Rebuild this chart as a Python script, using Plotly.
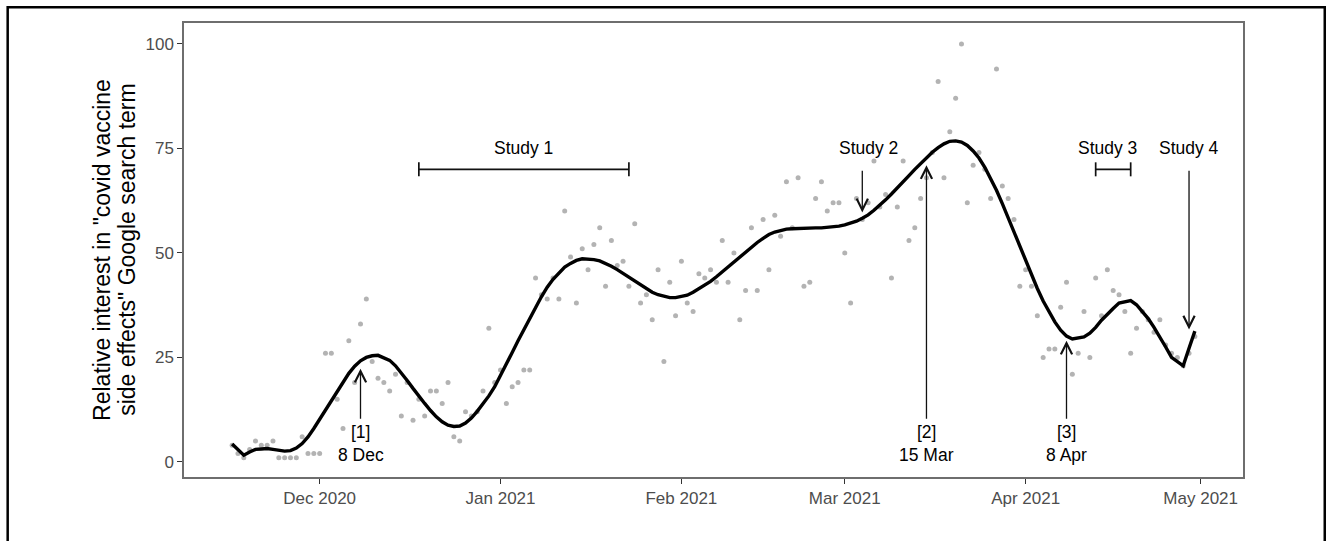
import pandas as pd
import plotly.graph_objects as go

# Daily relative search interest (Google Trends, 0-100), starting 16 Nov 2020
START = "2020-11-16"
interest = [
    4, 2, 1, 3, 5, 4, 4, 5, 1, 1, 1, 1, 6, 2, 2, 2,            # 16 Nov - 1 Dec
    26, 26, 15, 8, 29, 19, 33, 39, 24, 20, 19, 17, 21, 11, 19,  # 2 Dec - 16 Dec
    10, 15, 11, 17, 17, 14, 19, 6, 5, 12, 11, 12, 17, 32, 19,   # 17 Dec - 31 Dec
    22, 14, 18, 19, 22, 22, 44, 40, 39, 44, 39, 60, 49, 38, 51,  # 1 Jan - 15 Jan
    46, 52, 56, 42, 53, 47, 48, 42, 57, 38, 40, 34, 46, 24, 43,  # 16 Jan - 30 Jan
    35, 48, 38, 36, 45, 44, 46, 43, 53, 43, 50, 34, 41, 56, 41,  # 31 Jan - 14 Feb
    58, 46, 59, 54, 67, 56, 68, 42, 43, 63, 67, 60, 62, 62, 50,  # 15 Feb - 1 Mar
    38, 63, 58, 62, 72, 61, 64, 44, 61, 72, 53, 56, 63, 68, 74,  # 2 Mar - 16 Mar
    91, 68, 79, 87, 100, 62, 71, 74, 70, 63, 94, 66, 63, 58, 42, # 17 Mar - 31 Mar
    46, 42, 35, 25, 27, 27, 37, 43, 21, 26, 36, 25, 44, 35, 46,  # 1 Apr - 15 Apr
    41, 40, 36, 26, 32, 36, 34, 31, 34, 28, 26, 25, 23, 26, 30,  # 16 Apr - 30 Apr
]

# Smoothed trend of the same series, one value per day
smoothed = [
    4.3, 2.9, 1.6, 2.4, 3.0, 3.1, 3.2, 3.0, 2.7, 2.6, 2.7, 3.3, 4.4, 6.0, 8.0, 10.2,
    12.5, 14.8, 17.0, 19.2, 21.2, 22.9, 24.2, 25.0, 25.4, 25.5, 25.0, 24.3, 23.0, 21.4, 19.5,
    17.6, 15.7, 14.0, 12.3, 10.8, 9.6, 8.8, 8.5, 8.6, 9.3, 10.5, 12.1, 13.8, 15.8, 18.0,
    20.6, 23.4, 26.2, 29.0, 31.5, 34.0, 36.9, 39.5, 41.8, 43.7, 45.3, 46.6, 47.5, 48.2, 48.6,
    48.6, 48.4, 48.1, 47.5, 46.8, 46.0, 45.1, 44.2, 43.2, 42.2, 41.3, 40.6, 40.0, 39.6, 39.3,
    39.3, 39.5, 39.9, 40.6, 41.4, 42.2, 43.2, 44.3, 45.5, 46.7, 47.9, 49.1, 50.3, 51.4, 52.5,
    53.5, 54.4, 55.0, 55.4, 55.7, 55.8, 55.9, 56.0, 56.0, 56.0, 56.0, 56.1, 56.2, 56.4, 56.7,
    57.1, 57.6, 58.3, 59.1, 60.2, 61.4, 62.7, 64.1, 65.5, 67.0, 68.5, 70.0, 71.4, 72.8, 74.1,
    75.2, 76.1, 76.7, 76.8, 76.5, 75.7, 74.4, 72.7, 70.5, 67.9, 65.0, 61.8, 58.4, 54.9, 51.4,
    48.0, 44.8, 41.5, 38.5, 35.8, 33.5, 31.5, 30.1, 29.4, 29.6, 29.9, 30.8, 32.2, 33.9, 35.4,
    36.7, 38.0, 38.4, 38.6, 37.6, 36.0, 34.3, 32.2, 30.0, 27.5, 25.0, 24.0, 23.0, 27.2, 31.3,
]

# X-axis ticks
tick_dates = ["2020-12-01", "2021-01-01", "2021-02-01", "2021-03-01", "2021-04-01", "2021-05-01"]
tick_labels = ["Dec 2020", "Jan 2021", "Feb 2021", "Mar 2021", "Apr 2021", "May 2021"]
y_ticks = [0, 25, 50, 75, 100]

# Study periods shown as bracketed spans
span_names = ["Study 1", "Study 3"]
span_starts = ["2020-12-18", "2021-04-13"]
span_ends = ["2021-01-23", "2021-04-19"]
span_level = 70

# Single-day studies shown as downward arrows
point_names = ["Study 2", "Study 4"]
point_dates = ["2021-03-04", "2021-04-29"]
point_tips = [59.7, 31.7]

# Study labels
study_labels = ["Study 1", "Study 2", "Study 3", "Study 4"]
study_label_dates = ["2021-01-05", "2021-03-05", "2021-04-15", "2021-04-29"]
study_label_level = 75

# Numbered events marked with upward arrows
event_tags = ["[1]", "[2]", "[3]"]
event_names = ["8 Dec", "15 Mar", "8 Apr"]
event_dates = ["2020-12-08", "2021-03-15", "2021-04-08"]
event_tips = [22.3, 71.0, 29.0]
event_tail = 10
event_tag_level = 7.2
event_name_level = 1.6

dates = pd.date_range(START, periods=len(interest), freq="D")
pad = pd.Timedelta(days=8.25)
x_range = [dates[0] - pad, dates[-1] + pad]
y_range = [-3.6, 105]

FONT = "Arial, Liberation Sans, sans-serif"

fig = go.Figure()

fig.add_trace(go.Scatter(
    x=dates, y=interest, mode="markers",
    marker=dict(color="#b3b3b3", size=5, line=dict(width=0)),
    hoverinfo="x+y", showlegend=False,
))
fig.add_trace(go.Scatter(
    x=dates, y=smoothed, mode="lines",
    line=dict(color="black", width=3.4),
    showlegend=False,
))

# Bracketed study spans
for name, s, e in zip(span_names, span_starts, span_ends):
    fig.add_trace(go.Scatter(
        x=[pd.Timestamp(s), pd.Timestamp(e)], y=[span_level, span_level],
        mode="lines+markers",
        line=dict(color="#111111", width=1.7),
        marker=dict(symbol="line-ns-open", size=10, line=dict(color="#111111", width=1.7)),
        showlegend=False, hoverinfo="skip", name=name,
    ))

annotations = []
arrow_style = dict(showarrow=True, arrowhead=5, arrowsize=1.7, arrowwidth=1.3,
                   arrowcolor="#111111", axref="x", ayref="y", text="", standoff=0)

for d, tip in zip(point_dates, point_tips):
    annotations.append(dict(x=d, y=tip, ax=d, ay=span_level, **arrow_style))

for d, tip in zip(event_dates, event_tips):
    annotations.append(dict(x=d, y=tip, ax=d, ay=event_tail, **arrow_style))

text_font = dict(family=FONT, size=17.5, color="black")
for lab, d in zip(study_labels, study_label_dates):
    annotations.append(dict(x=d, y=study_label_level, text=lab, showarrow=False,
                            font=text_font, xanchor="center", yanchor="middle"))
for tag, name, d in zip(event_tags, event_names, event_dates):
    annotations.append(dict(x=d, y=event_tag_level, text=tag, showarrow=False,
                            font=text_font, xanchor="center", yanchor="middle"))
    annotations.append(dict(x=d, y=event_name_level, text=name, showarrow=False,
                            font=text_font, xanchor="center", yanchor="middle"))

# Two-line y-axis title
title_lines = ['Relative interest in "covid vaccine', 'side effects" Google search term']
title_x = [-0.0775, -0.0540]
for line, px in zip(title_lines, title_x):
    annotations.append(dict(xref="paper", yref="paper", x=px, y=0.5, text=line,
                            textangle=-90, showarrow=False, xanchor="center",
                            yanchor="middle",
                            font=dict(family=FONT, size=23, color="black")))

# Outer frame around the whole figure
frame = dict(type="rect", xref="paper", yref="paper",
             x0=-0.1665, x1=1.0772, y0=-0.15, y1=1.0348,
             line=dict(color="black", width=2.5), fillcolor="rgba(0,0,0,0)", layer="above")

axis_common = dict(showgrid=False, zeroline=False, showline=True, mirror=True,
                   linecolor="#6e6e6e", linewidth=1.5, ticks="outside", ticklen=5,
                   tickwidth=1.4, tickcolor="#333333",
                   tickfont=dict(family=FONT, size=17, color="#4d4d4d"))

fig.update_layout(
    width=1330, height=541,
    margin=dict(l=184, r=87, t=23, b=64),
    paper_bgcolor="white", plot_bgcolor="white",
    xaxis=dict(range=x_range, tickvals=pd.to_datetime(tick_dates), ticktext=tick_labels,
               **axis_common),
    yaxis=dict(range=y_range, tickvals=y_ticks, ticktext=[str(v) for v in y_ticks],
               **axis_common),
    annotations=annotations,
    shapes=[frame],
    font=dict(family=FONT),
)

fig.write_html("out.html")
